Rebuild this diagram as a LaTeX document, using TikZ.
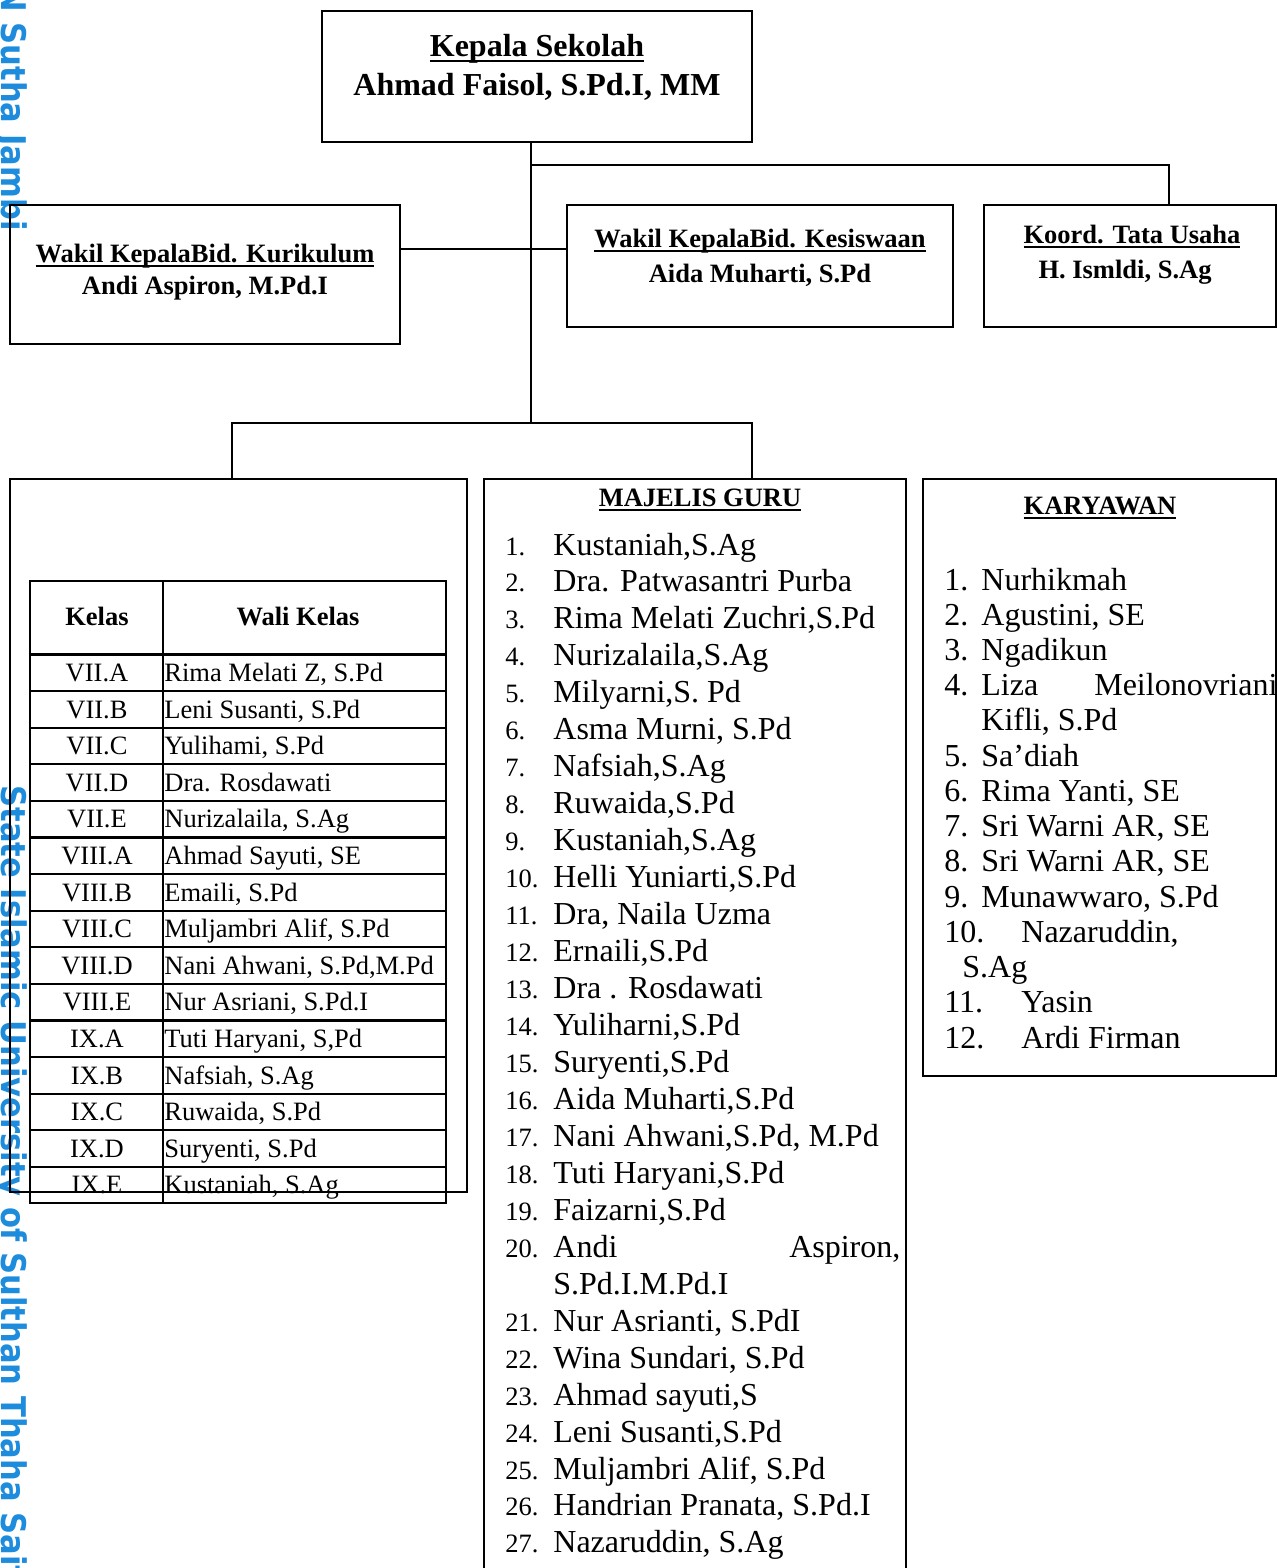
\documentclass[tikz,border=0pt]{standalone}
\usepackage{fontspec}
\setmainfont{Liberation Serif}
\newfontfamily\wmfont[FakeStretch=0.9]{DejaVu Sans}
\usepackage{xcolor}
\usetikzlibrary{positioning,calc}
\definecolor{wmblue}{RGB}{30,140,220}
\newcommand{\uln}[1]{\setbox0\hbox{#1}\rlap{\rule[-2.6pt]{\wd0}{1.1pt}}\box0}

\begin{document}
\begin{tikzpicture}[x=0.5pt, y=-0.5pt]
    \tikzstyle{unitbox} = [rectangle, draw, line width=1pt, inner sep=0pt]
    \tikzstyle{bigtitle} = [font=\fontsize{16}{19}\selectfont\bfseries, inner sep=0pt, anchor=base]
    \tikzstyle{boxtitle} = [font=\fontsize{13.25}{16}\selectfont\bfseries, inner sep=0pt, anchor=base]
    \tikzstyle{cell} = [font=\fontsize{13.25}{16}\selectfont, inner sep=0pt, anchor=base]
    \tikzstyle{entry} = [font=\fontsize{16}{19}\selectfont, inner sep=0pt, anchor=base west]
    \tikzstyle{num} = [font=\fontsize{13.25}{16}\selectfont, inner sep=0pt, anchor=base west]
    \tikzstyle{link} = [line width=0.9pt]
    \tikzstyle{grid} = [line width=1.1pt]
    \tikzstyle{wm} = [font=\wmfont\bfseries\fontsize{17}{20}\selectfont, text=wmblue, inner sep=0pt, rotate=-90]

    \useasboundingbox (0,0) rectangle (1277,1568);
    \clip (0,0) rectangle (1277,1568);

    % Watermark
    \node[wm, anchor=base east] (wmtop) at (2,231) {UIN Sutha Jambi};
    \node[wm, anchor=base west] (wmbot) at (2,785) {State Islamic University of Sulthan Thaha Saifuddin Jambi};

    % Kepala sekolah
    \node[unitbox, minimum width=215pt, minimum height=65.5pt] (kepala) at (537,76.5) {};
    \node[bigtitle] (kepT) at (537,57) {\uln{Kepala Sekolah}};
    \node[bigtitle] (kepN) at (537,96) {Ahmad Faisol, S.Pd.I, MM};

    % Wakil kepala and tata usaha
    \node[unitbox, minimum width=195pt, minimum height=69.5pt] (kur) at (205,274.5) {};
    \node[boxtitle] (kurT) at (205,262) {\uln{Wakil KepalaBid. Kurikulum}};
    \node[boxtitle] (kurN) at (205,294) {Andi Aspiron, M.Pd.I};

    \node[unitbox, minimum width=193pt, minimum height=61pt] (kes) at (760,266) {};
    \node[boxtitle] (kesT) at (760,247) {\uln{Wakil KepalaBid. Kesiswaan}};
    \node[boxtitle] (kesN) at (760,282) {Aida Muharti, S.Pd};

    \node[unitbox, minimum width=146pt, minimum height=61pt] (koord) at (1130,266) {};
    \node[boxtitle] (koordT) at (1132,243) {\uln{Koord. Tata Usaha}};
    \node[boxtitle] (koordN) at (1125,278) {H. Ismldi, S.Ag};

    % Lower boxes
    \node[unitbox, line width=0.8pt, minimum width=228.5pt, minimum height=356.5pt] (kelasbox) at (238.5,835.5) {};
    \node[unitbox, minimum width=211pt, minimum height=560.5pt] (majelis) at (695,1039.5) {};
    \node[unitbox, minimum width=176.5pt, minimum height=298.5pt] (karyawan) at (1099.5,777.5) {};

    % Connections
    \coordinate (fork) at (531,165);
    \coordinate (mid) at (531,249);
    \coordinate (trunk) at (531,423);
    \draw[link] (kepala.south -| trunk) -- (trunk);
    \draw[link] (fork) -| ($(koord.north)+(39,0)$);
    \draw[link] (kur.east |- mid) -- (kes.west |- mid);
    \draw[link] ($(kelasbox.north)+(-6.5,0)$) |- (trunk) -| ($(majelis.north)+(57,0)$);

    % Wali kelas table
    \draw[grid] (30,581) rectangle (446,1203);
    \draw[grid] (163,581) -- (163,1203);
    \foreach \r in {0,...,14}
        \draw[grid] (30,{654.5+36.6*\r}) -- (446,{654.5+36.6*\r});
    \node[cell, font=\fontsize{13.25}{16}\selectfont\bfseries] (hkelas) at (97,625) {Kelas};
    \node[cell, font=\fontsize{13.25}{16}\selectfont\bfseries] (hwali) at (298,625) {Wali Kelas};
    \foreach \kls/\wali [count=\r from 0] in {
        VII.A/{Rima Melati Z, S.Pd}, VII.B/{Leni Susanti, S.Pd}, VII.C/{Yulihami, S.Pd},
        VII.D/{Dra. Rosdawati}, VII.E/{Nurizalaila, S.Ag}, VIII.A/{Ahmad Sayuti, SE},
        VIII.B/{Emaili, S.Pd}, VIII.C/{Muljambri Alif, S.Pd}, VIII.D/{Nani Ahwani, S.Pd,M.Pd},
        VIII.E/{Nur Asriani, S.Pd.I}, IX.A/{Tuti Haryani, S,Pd}, IX.B/{Nafsiah, S.Ag},
        IX.C/{Ruwaida, S.Pd}, IX.D/{Suryenti, S.Pd}, IX.E/{Kustaniah, S.Ag}} {
        \node[cell] (kelas\r) at (97,{681.5+36.6*\r}) {\kls};
        \node[cell, anchor=base west] (wali\r) at (164,{681.5+36.6*\r}) {\wali};
    }

    % Majelis guru
    \node[boxtitle] (majT) at (700,506) {\uln{MAJELIS GURU}};
    \foreach \nama [count=\n] in {
        {Kustaniah,S.Ag}, {Dra. Patwasantri Purba}, {Rima Melati Zuchri,S.Pd}, {Nurizalaila,S.Ag},
        {Milyarni,S. Pd}, {Asma Murni, S.Pd}, {Nafsiah,S.Ag}, {Ruwaida,S.Pd}, {Kustaniah,S.Ag},
        {Helli Yuniarti,S.Pd}, {Dra, Naila Uzma}, {Ernaili,S.Pd}, {Dra . Rosdawati},
        {Yuliharni,S.Pd}, {Suryenti,S.Pd}, {Aida Muharti,S.Pd}, {Nani Ahwani,S.Pd, M.Pd},
        {Tuti Haryani,S.Pd}, {Faizarni,S.Pd}} {
        \node[num] (gnum\n) at (505,{555+36.96*(\n-1)}) {\n.};
        \node[entry] (gname\n) at (553,{555+36.96*(\n-1)}) {\nama};
    }
    \node[num] (gnum20) at (505,{555+36.96*19}) {20.};
    \node[entry] (gname20) at (553,{555+36.96*19}) {\hbox to 173.5pt{Andi\hfill Aspiron,}};
    \node[entry] (gname20b) at (553,{555+36.96*20}) {S.Pd.I.M.Pd.I};
    \foreach \nama [count=\n from 21] in {
        {Nur Asrianti, S.PdI}, {Wina Sundari, S.Pd}, {Ahmad sayuti,S}, {Leni Susanti,S.Pd},
        {Muljambri Alif, S.Pd}, {Handrian Pranata, S.Pd.I}, {Nazaruddin, S.Ag}} {
        \node[num] (gnum\n) at (505,{555+36.96*\n}) {\n.};
        \node[entry] (gname\n) at (553,{555+36.96*\n}) {\nama};
    }

    % Karyawan
    \node[boxtitle] (karT) at (1100,514) {\uln{KARYAWAN}};
    \foreach \n/\k/\nama in {1/0/Nurhikmah, 2/1/{Agustini, SE}, 3/2/Ngadikun, 5/5/{Sa’diah},
        6/6/{Rima Yanti, SE}, 7/7/{Sri Warni AR, SE}, 8/8/{Sri Warni AR, SE}, 9/9/{Munawwaro, S.Pd}} {
        \node[entry] (knum\n) at (944,{590+35.23*\k}) {\n.};
        \node[entry] (kname\n) at (981,{590+35.23*\k}) {\nama};
    }
    \node[entry] (knum4) at (944,{590+35.23*3}) {4.};
    \node[entry] (kname4) at (981,{590+35.23*3}) {\hbox to 148pt{Liza\hfill Meilonovriani}};
    \node[entry] (kname4b) at (981,{590+35.23*4}) {Kifli, S.Pd};
    \node[entry] (knum10) at (944,{590+35.23*10}) {10.};
    \node[entry] (kname10) at (1021,{590+35.23*10}) {Nazaruddin,};
    \node[entry] (kname10b) at (962,{590+35.23*11}) {S.Ag};
    \node[entry] (knum11) at (944,{590+35.23*12}) {11.};
    \node[entry] (kname11) at (1021,{590+35.23*12}) {Yasin};
    \node[entry] (knum12) at (944,{590+35.23*13}) {12.};
    \node[entry] (kname12) at (1021,{590+35.23*13}) {Ardi Firman};
\end{tikzpicture}
\end{document}
